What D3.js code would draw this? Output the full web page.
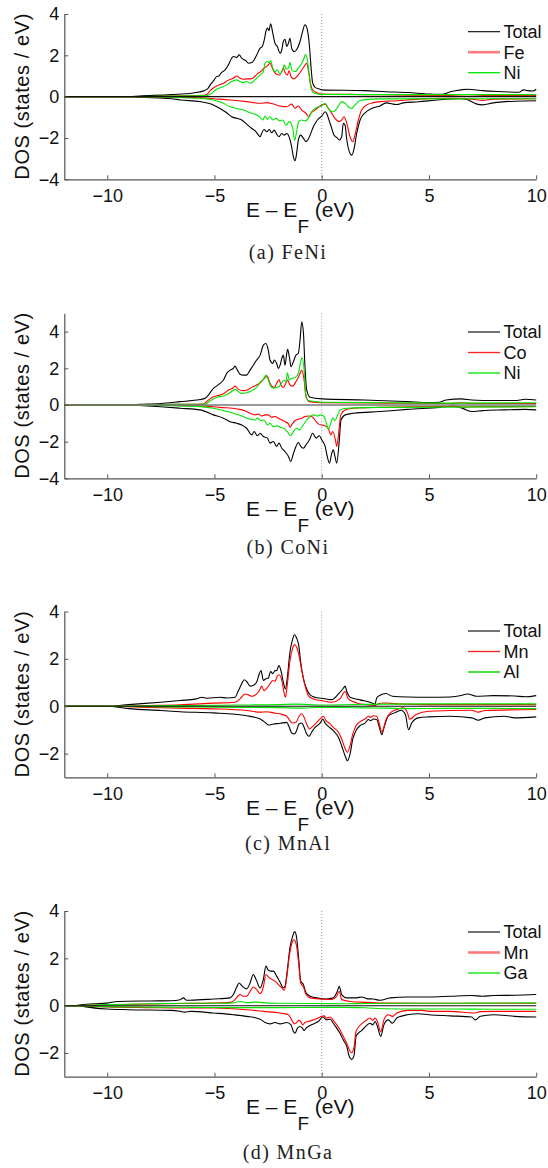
<!DOCTYPE html>
<html><head><meta charset="utf-8">
<script src="https://cdn.jsdelivr.net/npm/d3@7"></script>
<style>body{margin:0;background:#fff}svg{display:block}</style>
</head><body><svg id="c" width="548" height="1168"></svg>
<script>
// ---------- data: [energy (eV), DOS (states/eV)] ----------
const feniTotUp=[[-12,0],[-9,0],[-8.5,0.03],[-7,0.1],[-6,0.18],[-5.5,0.28],[-5.3,0.4],[-5.2,0.57],[-5.02,0.8],[-4.9,0.97],[-4.8,1.0],[-4.66,1.17],[-4.5,1.3],[-4.35,1.54],[-4.2,1.86],[-4.12,1.94],[-3.96,1.9],[-3.84,2.02],[-3.73,1.86],[-3.65,1.8],[-3.54,1.75],[-3.42,1.62],[-3.26,1.65],[-3.15,1.78],[-3.03,2.02],[-2.87,2.35],[-2.77,2.43],[-2.67,2.78],[-2.6,3.16],[-2.52,3.32],[-2.46,3.2],[-2.38,3.53],[-2.28,3.07],[-2.18,2.59],[-2.07,2.43],[-1.94,2.1],[-1.86,2.27],[-1.79,2.67],[-1.71,2.78],[-1.63,2.43],[-1.55,2.59],[-1.48,2.83],[-1.4,2.35],[-1.29,2.18],[-1.17,2.27],[-1.01,2.67],[-0.89,3.16],[-0.78,3.48],[-0.67,3.24],[-0.57,2.43],[-0.5,1.46],[-0.42,0.65],[-0.31,0.45],[-0.08,0.36],[0,0.33],[2,0.29],[3,0.24],[4,0.2],[5,0.13],[5.6,0.11],[6,0.24],[6.5,0.33],[6.8,0.36],[7.5,0.29],[8.5,0.24],[9.2,0.21],[9.4,0.33],[9.6,0.29],[9.85,0.27],[10,0.36]];
const feniFeUp=[[-12,0],[-9,0],[-7,0.03],[-6,0.05],[-5.5,0.06],[-5.36,0.1],[-5.2,0.29],[-5.05,0.42],[-4.82,0.55],[-4.58,0.65],[-4.35,0.8],[-4.12,0.89],[-3.96,1.0],[-3.81,0.89],[-3.65,0.84],[-3.5,0.86],[-3.31,0.86],[-3.15,0.94],[-3.0,1.1],[-2.84,1.21],[-2.69,1.38],[-2.53,1.49],[-2.41,1.62],[-2.33,1.46],[-2.25,1.26],[-2.13,1.1],[-1.97,1.05],[-1.86,1.21],[-1.79,1.38],[-1.71,1.17],[-1.6,1.05],[-1.52,1.26],[-1.43,0.97],[-1.29,0.86],[-1.13,1.0],[-0.98,1.21],[-0.82,1.46],[-0.7,1.62],[-0.61,1.21],[-0.51,0.57],[-0.42,0.32],[-0.23,0.19],[0,0.13],[2,0.1],[4,0.07],[6,0.06],[6.8,0.1],[7.5,0.06],[10,0.06]];
const feniNiUp=[[-12,0],[-9,0],[-7,0.03],[-6,0.04],[-5.36,0.05],[-5.13,0.16],[-4.9,0.36],[-4.66,0.45],[-4.43,0.57],[-4.2,0.73],[-3.96,0.81],[-3.81,0.73],[-3.65,0.68],[-3.5,0.73],[-3.34,0.65],[-3.19,0.73],[-3.03,0.89],[-2.87,1.05],[-2.72,1.21],[-2.64,1.62],[-2.53,1.7],[-2.44,1.65],[-2.38,1.75],[-2.28,1.38],[-2.18,1.21],[-2.07,1.29],[-1.94,1.1],[-1.83,1.29],[-1.74,1.54],[-1.66,1.33],[-1.55,1.38],[-1.48,1.65],[-1.38,1.26],[-1.24,1.21],[-1.09,1.38],[-0.93,1.62],[-0.82,1.86],[-0.76,2.05],[-0.67,1.78],[-0.57,0.97],[-0.5,0.4],[-0.39,0.19],[0,0.11],[2,0.1],[5,0.1],[10,0.1]];
const feniTotDn=[[-12,0],[-9,0],[-8.5,-0.03],[-7,-0.1],[-6.6,-0.16],[-5.67,-0.24],[-5.05,-0.4],[-4.74,-0.57],[-4.43,-0.78],[-4.2,-0.97],[-3.96,-1.05],[-3.73,-1.13],[-3.5,-1.33],[-3.26,-1.54],[-3.06,-1.7],[-2.95,-1.86],[-2.87,-1.94],[-2.8,-1.78],[-2.69,-1.59],[-2.56,-1.7],[-2.44,-1.59],[-2.33,-1.75],[-2.22,-1.62],[-2.1,-1.81],[-1.99,-1.94],[-1.86,-1.78],[-1.76,-1.86],[-1.63,-1.78],[-1.51,-1.97],[-1.4,-2.43],[-1.32,-2.91],[-1.24,-3.1],[-1.17,-2.75],[-1.09,-2.1],[-0.98,-1.86],[-0.85,-2.02],[-0.73,-2.18],[-0.65,-2.1],[-0.54,-1.86],[-0.39,-1.46],[-0.2,-1.13],[0,-0.94],[0.16,-0.73],[0.23,-0.81],[0.34,-1.13],[0.47,-1.54],[0.57,-1.86],[0.7,-1.97],[0.82,-2.1],[0.93,-1.94],[1.01,-1.29],[1.09,-1.38],[1.17,-2.1],[1.29,-2.67],[1.4,-2.83],[1.51,-2.51],[1.63,-1.78],[1.79,-1.13],[2.02,-0.78],[2.33,-0.57],[2.72,-0.45],[3,-0.3],[3.5,-0.38],[3.8,-0.3],[4.5,-0.25],[5.5,-0.15],[6.5,-0.1],[6.8,-0.15],[7.2,-0.35],[7.5,-0.4],[8,-0.3],[9,-0.22],[10,-0.2]];
const feniFeDn=[[-12,0],[-9,0],[-7,-0.03],[-5.67,-0.05],[-5.05,-0.1],[-4.27,-0.16],[-3.5,-0.24],[-2.87,-0.32],[-2.56,-0.29],[-2.25,-0.36],[-1.94,-0.45],[-1.63,-0.49],[-1.4,-0.36],[-1.24,-0.57],[-1.09,-0.45],[-0.93,-0.65],[-0.73,-0.81],[-0.62,-0.97],[-0.51,-0.81],[-0.31,-0.65],[-0.08,-0.45],[0.16,-0.36],[0.31,-0.57],[0.47,-0.81],[0.62,-1.05],[0.82,-1.21],[0.93,-1.13],[1.04,-0.97],[1.17,-1.29],[1.32,-1.94],[1.45,-2.18],[1.55,-1.86],[1.71,-1.13],[1.86,-0.65],[2.1,-0.4],[2.41,-0.29],[2.72,-0.24],[3.5,-0.2],[4.5,-0.12],[6,-0.08],[7,-0.12],[7.5,-0.18],[8,-0.12],[10,-0.1]];
const feniNiDn=[[-12,0],[-9,0],[-7,-0.03],[-5.67,-0.08],[-5.05,-0.16],[-4.58,-0.32],[-4.27,-0.49],[-3.96,-0.57],[-3.65,-0.65],[-3.34,-0.78],[-3.03,-0.89],[-2.87,-1.0],[-2.75,-1.13],[-2.64,-0.94],[-2.53,-1.1],[-2.41,-0.97],[-2.28,-1.13],[-2.13,-1.05],[-1.97,-1.17],[-1.82,-1.13],[-1.66,-1.38],[-1.51,-1.21],[-1.35,-1.54],[-1.26,-2.12],[-1.17,-1.7],[-1.07,-1.21],[-0.93,-1.13],[-0.78,-1.17],[-0.62,-1.05],[-0.47,-0.73],[-0.23,-0.52],[0,-0.45],[0.16,-0.32],[0.31,-0.57],[0.47,-0.73],[0.62,-0.68],[0.78,-0.45],[0.93,-0.24],[1.09,-0.32],[1.24,-0.49],[1.4,-0.57],[1.55,-0.4],[1.79,-0.19],[2.1,-0.13],[2.72,-0.11],[10,-0.1]];

const coniTotUp=[[-12,0],[-9,0],[-8.5,0.03],[-7.5,0.08],[-6.6,0.18],[-5.83,0.27],[-5.44,0.36],[-5.28,0.54],[-5.05,0.91],[-4.9,1.03],[-4.74,1.18],[-4.58,1.36],[-4.43,1.72],[-4.27,1.9],[-4.12,1.99],[-4.04,2.12],[-3.93,1.9],[-3.81,1.68],[-3.65,1.63],[-3.5,1.63],[-3.34,1.9],[-3.19,2.17],[-3.03,2.45],[-2.87,2.72],[-2.72,3.26],[-2.6,3.35],[-2.49,2.99],[-2.41,2.45],[-2.28,2.26],[-2.21,2.45],[-2.1,2.26],[-2.02,1.99],[-1.94,2.17],[-1.86,2.54],[-1.79,2.72],[-1.71,2.17],[-1.63,2.81],[-1.59,3.03],[-1.51,2.63],[-1.43,2.08],[-1.32,2.36],[-1.2,2.72],[-1.09,2.81],[-1.01,3.53],[-0.93,4.53],[-0.85,3.9],[-0.78,2.08],[-0.7,0.82],[-0.54,0.42],[0,0.33],[2,0.27],[4,0.18],[5,0.13],[5.5,0.15],[5.8,0.27],[6.5,0.33],[7,0.27],[8,0.24],[9,0.24],[9.5,0.31],[10,0.27]];
const coniCoUp=[[-12,0],[-9,0],[-7,0.03],[-6,0.04],[-5.52,0.05],[-5.28,0.27],[-5.05,0.45],[-4.74,0.54],[-4.51,0.67],[-4.35,0.82],[-4.15,0.91],[-4.04,1.03],[-3.88,0.85],[-3.65,0.78],[-3.42,0.85],[-3.26,0.96],[-3.03,1.09],[-2.8,1.27],[-2.64,1.5],[-2.53,1.58],[-2.44,1.27],[-2.33,1.03],[-2.21,0.96],[-2.1,1.18],[-1.99,1.39],[-1.9,1.09],[-1.79,0.96],[-1.66,1.21],[-1.59,1.36],[-1.48,1.09],[-1.35,1.03],[-1.2,1.27],[-1.04,1.63],[-0.93,1.9],[-0.82,1.36],[-0.73,0.45],[-0.57,0.18],[0,0.13],[3,0.1],[6,0.08],[6.5,0.12],[7,0.08],[10,0.08]];
const coniNiUp=[[-12,0],[-9,0],[-7,0.03],[-6,0.04],[-5.44,0.05],[-5.2,0.22],[-4.9,0.42],[-4.58,0.49],[-4.27,0.67],[-4.04,0.85],[-3.88,0.72],[-3.73,0.63],[-3.5,0.67],[-3.26,0.78],[-3.03,0.96],[-2.84,1.27],[-2.72,1.39],[-2.6,1.63],[-2.49,1.36],[-2.38,1.03],[-2.25,0.91],[-2.1,0.96],[-1.97,1.03],[-1.86,1.21],[-1.76,1.36],[-1.66,1.27],[-1.6,1.76],[-1.51,1.36],[-1.4,1.45],[-1.24,1.5],[-1.09,1.72],[-0.98,2.36],[-0.92,2.59],[-0.82,1.9],[-0.75,0.63],[-0.62,0.24],[0,0.15],[3,0.12],[6,0.1],[10,0.12]];
const coniTotDn=[[-12,0],[-9,0],[-8.5,-0.03],[-7.5,-0.1],[-6.6,-0.18],[-5.67,-0.27],[-5.05,-0.54],[-4.58,-0.72],[-4.27,-0.91],[-3.96,-1.0],[-3.73,-1.09],[-3.5,-1.27],[-3.26,-1.63],[-3.15,-1.45],[-3.0,-1.68],[-2.87,-1.54],[-2.72,-1.72],[-2.53,-1.81],[-2.41,-2.08],[-2.25,-1.99],[-2.1,-2.26],[-1.99,-2.08],[-1.86,-2.36],[-1.71,-2.54],[-1.55,-2.81],[-1.45,-3.08],[-1.32,-2.66],[-1.2,-2.26],[-1.09,-2.05],[-0.98,-2.26],[-0.85,-2.36],[-0.73,-2.17],[-0.57,-1.9],[-0.42,-1.54],[-0.26,-1.81],[-0.11,-1.68],[0,-1.9],[0.16,-2.26],[0.26,-2.81],[0.36,-3.17],[0.47,-2.63],[0.54,-2.45],[0.62,-2.81],[0.7,-3.17],[0.81,-2.08],[0.9,-0.82],[1.09,-0.54],[1.48,-0.45],[2.72,-0.36],[4,-0.24],[5.5,-0.13],[6.2,-0.06],[6.6,-0.2],[7,-0.36],[7.5,-0.31],[8.5,-0.27],[9.5,-0.24],[10,-0.27]];
const coniCoDn=[[-12,0],[-9,0],[-7,-0.03],[-5.67,-0.05],[-4.74,-0.13],[-3.81,-0.24],[-3.5,-0.36],[-3.26,-0.49],[-3.11,-0.54],[-2.95,-0.49],[-2.8,-0.6],[-2.64,-0.54],[-2.49,-0.54],[-2.33,-0.67],[-2.18,-0.63],[-2.02,-0.72],[-1.86,-0.82],[-1.71,-0.91],[-1.55,-1.03],[-1.48,-1.21],[-1.37,-1.03],[-1.24,-0.85],[-1.09,-0.78],[-0.93,-0.72],[-0.78,-0.63],[-0.62,-0.6],[-0.47,-0.63],[-0.31,-0.82],[-0.16,-1.03],[0,-1.09],[0.16,-1.14],[0.31,-1.27],[0.42,-1.63],[0.51,-1.45],[0.64,-1.9],[0.7,-2.26],[0.79,-1.54],[0.89,-0.54],[1.09,-0.27],[1.48,-0.18],[2.72,-0.13],[6,-0.08],[6.6,-0.12],[7,-0.1],[10,-0.08]];
const coniNiDn=[[-12,0],[-9,0],[-7,-0.04],[-5.67,-0.09],[-5.05,-0.18],[-4.58,-0.31],[-4.12,-0.45],[-3.65,-0.63],[-3.34,-0.78],[-3.11,-0.82],[-3.0,-0.72],[-2.84,-0.85],[-2.69,-0.82],[-2.53,-1.09],[-2.41,-1.0],[-2.25,-1.18],[-2.1,-1.14],[-1.94,-1.21],[-1.79,-1.27],[-1.6,-1.45],[-1.45,-1.68],[-1.32,-1.45],[-1.17,-1.27],[-1.04,-1.36],[-0.89,-1.14],[-0.7,-0.82],[-0.54,-0.63],[-0.39,-0.54],[-0.2,-0.6],[-0.08,-0.54],[0.08,-0.6],[0.2,-0.91],[0.31,-1.32],[0.42,-1.0],[0.51,-0.72],[0.62,-0.85],[0.73,-0.6],[0.85,-0.27],[1.17,-0.18],[2.72,-0.13],[10,-0.1]];

const mnalTotUp=[[-12,0],[-10,0],[-9,0.07],[-7.5,0.17],[-6.6,0.24],[-5.83,0.31],[-5.59,0.38],[-5.36,0.34],[-4.74,0.38],[-4.43,0.35],[-4.04,0.38],[-3.88,0.66],[-3.73,0.95],[-3.61,1.12],[-3.5,1.05],[-3.34,0.85],[-3.19,0.88],[-3.03,1.02],[-2.91,1.37],[-2.83,1.51],[-2.72,1.09],[-2.6,1.16],[-2.49,1.19],[-2.38,1.47],[-2.28,1.37],[-2.18,1.51],[-2.1,1.5],[-2.0,1.72],[-1.9,1.51],[-1.79,1.02],[-1.69,0.73],[-1.6,1.23],[-1.48,2.29],[-1.37,2.78],[-1.27,3.02],[-1.17,2.88],[-1.07,2.57],[-0.98,1.86],[-0.85,1.16],[-0.7,0.73],[-0.54,0.48],[-0.31,0.38],[0,0.34],[0.47,0.28],[0.78,0.52],[1.01,0.76],[1.09,0.85],[1.17,0.62],[1.32,0.38],[1.79,0.27],[2.25,0.17],[2.49,0.1],[2.56,0.34],[2.69,0.45],[3.0,0.54],[3.3,0.42],[4,0.39],[5,0.38],[6,0.39],[6.5,0.45],[6.8,0.52],[7.2,0.42],[8,0.45],[9,0.43],[9.5,0.4],[10,0.45]];
const mnalMnUp=[[-12,0],[-10,0],[-8,0.03],[-6.6,0.06],[-5.05,0.13],[-4.04,0.17],[-3.81,0.31],[-3.57,0.52],[-3.42,0.48],[-3.26,0.42],[-3.03,0.52],[-2.87,0.73],[-2.8,0.85],[-2.69,0.66],[-2.56,0.76],[-2.41,0.95],[-2.28,1.09],[-2.18,1.05],[-2.07,1.27],[-1.99,1.33],[-1.86,1.09],[-1.76,0.59],[-1.69,0.38],[-1.6,0.95],[-1.48,1.93],[-1.35,2.46],[-1.27,2.6],[-1.17,2.5],[-1.06,2.15],[-0.93,1.51],[-0.78,0.88],[-0.62,0.45],[-0.39,0.31],[0,0.24],[0.47,0.17],[0.85,0.31],[1.09,0.62],[1.24,0.31],[1.63,0.14],[2.1,0.06],[2.49,0.03],[2.64,0.1],[2.9,0.14],[3.5,0.1],[5,0.07],[10,0.07]];
const mnalAlUp=[[-12,0],[-10,0],[-8,0.02],[-6,0.03],[-4,0.05],[-2,0.07],[-1.2,0.09],[0,0.05],[1,0.06],[2,0.08],[3,0.09],[5,0.1],[7,0.1],[10,0.1]];
const mnalTotDn=[[-12,0],[-10,0],[-9,-0.1],[-7.5,-0.18],[-6.6,-0.23],[-5.05,-0.28],[-3.5,-0.4],[-2.87,-0.54],[-2.64,-0.68],[-2.49,-0.79],[-2.25,-0.75],[-1.94,-0.72],[-1.63,-0.68],[-1.51,-0.89],[-1.4,-1.13],[-1.27,-1.17],[-1.17,-1.03],[-1.06,-0.75],[-0.93,-0.71],[-0.82,-0.89],[-0.7,-1.17],[-0.59,-1.27],[-0.47,-1.1],[-0.31,-0.89],[-0.16,-0.79],[-0.05,-0.68],[0.05,-0.54],[0.16,-0.71],[0.31,-0.85],[0.54,-1.03],[0.78,-1.31],[0.93,-1.67],[1.09,-2.09],[1.2,-2.3],[1.32,-2.02],[1.45,-1.38],[1.6,-1.03],[1.79,-0.82],[2.02,-0.71],[2.18,-0.56],[2.28,-0.61],[2.41,-0.54],[2.56,-0.56],[2.69,-0.89],[2.8,-1.2],[2.9,-0.92],[3.1,-0.42],[3.4,-0.28],[3.7,-0.17],[3.9,-0.35],[4.05,-0.99],[4.2,-0.7],[4.5,-0.49],[5,-0.45],[6,-0.42],[7,-0.49],[7.3,-0.59],[7.6,-0.49],[8.5,-0.42],[9,-0.49],[10,-0.45]];
const mnalMnDn=[[-12,0],[-10,0],[-8,-0.05],[-6.6,-0.08],[-5.05,-0.11],[-3.5,-0.18],[-2.87,-0.25],[-2.56,-0.23],[-2.25,-0.28],[-1.94,-0.32],[-1.63,-0.42],[-1.48,-0.61],[-1.35,-0.71],[-1.2,-0.68],[-1.04,-0.4],[-0.93,-0.32],[-0.82,-0.47],[-0.7,-0.75],[-0.57,-0.96],[-0.42,-0.85],[-0.23,-0.68],[0,-0.47],[0.08,-0.42],[0.2,-0.61],[0.36,-0.71],[0.54,-0.89],[0.78,-1.1],[0.93,-1.38],[1.09,-1.78],[1.2,-1.95],[1.32,-1.67],[1.45,-1.17],[1.6,-0.82],[1.79,-0.65],[2.02,-0.54],[2.18,-0.42],[2.28,-0.47],[2.41,-0.4],[2.56,-0.42],[2.69,-0.75],[2.8,-1.1],[3.0,-0.56],[3.2,-0.28],[3.5,-0.14],[3.8,-0.07],[4.0,-0.28],[4.1,-0.55],[4.4,-0.35],[5,-0.21],[7,-0.17],[7.3,-0.25],[7.6,-0.18],[10,-0.14]];
const mnalAlDn=[[-12,0],[-10,0],[-8,-0.02],[-6,-0.03],[-4,-0.05],[-2,-0.06],[-1,-0.08],[0,-0.05],[1,-0.05],[2,-0.07],[3,-0.08],[4,-0.1],[6,-0.09],[8,-0.09],[10,-0.1]];

const mngaTotUp=[[-12,0],[-11.5,0],[-11,0.06],[-10,0.11],[-9.5,0.18],[-8,0.2],[-7,0.21],[-6.6,0.25],[-6.45,0.33],[-6.3,0.23],[-6.14,0.23],[-5.05,0.28],[-4.27,0.33],[-4.12,0.47],[-3.96,0.79],[-3.85,0.96],[-3.73,0.85],[-3.5,0.71],[-3.34,0.96],[-3.19,1.32],[-3.06,1.11],[-2.87,0.75],[-2.72,1.11],[-2.6,1.67],[-2.49,1.5],[-2.38,1.46],[-2.25,1.46],[-2.1,1.25],[-1.94,0.99],[-1.79,0.75],[-1.71,0.82],[-1.6,1.53],[-1.48,2.45],[-1.35,2.95],[-1.26,3.13],[-1.17,2.88],[-1.07,1.96],[-0.98,1.04],[-0.85,0.89],[-0.73,0.54],[-0.54,0.4],[-0.23,0.33],[0.23,0.28],[0.54,0.33],[0.73,0.61],[0.82,0.82],[0.93,0.47],[1.17,0.33],[1.63,0.33],[1.86,0.37],[2.1,0.3],[2.41,0.28],[2.72,0.23],[3.2,0.33],[4,0.37],[5,0.37],[6,0.4],[7,0.43],[7.5,0.4],[8,0.43],[9,0.44],[10,0.47]];
const mngaMnUp=[[-12,0],[-11.5,0],[-10,0.04],[-8,0.07],[-6.6,0.09],[-5.05,0.11],[-4.27,0.14],[-4.04,0.26],[-3.88,0.43],[-3.81,0.47],[-3.65,0.4],[-3.5,0.4],[-3.31,0.65],[-3.19,0.79],[-3.03,0.68],[-2.87,0.51],[-2.72,0.79],[-2.6,1.32],[-2.49,1.22],[-2.33,1.11],[-2.18,1.04],[-2.02,0.89],[-1.86,0.75],[-1.74,0.65],[-1.63,1.18],[-1.51,2.1],[-1.38,2.67],[-1.29,2.78],[-1.17,2.52],[-1.07,1.74],[-0.98,0.96],[-0.85,0.79],[-0.73,0.47],[-0.54,0.33],[-0.08,0.28],[0.47,0.26],[0.7,0.4],[0.82,0.61],[0.93,0.26],[1.32,0.18],[2.1,0.14],[2.72,0.11],[5,0.1],[10,0.1]];
const mngaGaUp=[[-12,0],[-11.5,0],[-10,0.05],[-8,0.08],[-6.5,0.1],[-5,0.1],[-4.2,0.11],[-3.8,0.18],[-3.5,0.13],[-3.0,0.15],[-2.5,0.11],[-1.5,0.1],[0,0.09],[1,0.08],[2,0.09],[3,0.1],[5,0.1],[7,0.11],[10,0.12]];
const mngaTotDn=[[-12,0],[-11.3,0],[-11,-0.05],[-10,-0.14],[-9,-0.17],[-7,-0.2],[-6.6,-0.24],[-6.4,-0.27],[-6.1,-0.24],[-5.05,-0.31],[-4.12,-0.38],[-3.5,-0.45],[-2.87,-0.57],[-2.64,-0.71],[-2.41,-0.77],[-2.18,-0.71],[-1.94,-0.77],[-1.63,-0.71],[-1.43,-0.81],[-1.32,-1.09],[-1.24,-1.16],[-1.13,-0.95],[-1.01,-0.88],[-0.9,-0.95],[-0.82,-1.05],[-0.73,-0.95],[-0.57,-0.85],[-0.39,-0.77],[-0.16,-0.67],[0.05,-0.48],[0.23,-0.6],[0.39,-0.57],[0.54,-0.74],[0.7,-0.95],[0.85,-1.16],[1.01,-1.45],[1.17,-1.73],[1.29,-2.16],[1.4,-2.27],[1.51,-2.09],[1.6,-1.3],[1.71,-1.16],[1.86,-1.05],[2.07,-0.85],[2.25,-0.74],[2.38,-0.81],[2.49,-0.67],[2.6,-0.88],[2.75,-1.3],[2.9,-0.81],[3.1,-0.6],[3.3,-0.74],[3.5,-0.52],[4,-0.38],[4.5,-0.34],[5,-0.38],[6,-0.43],[7,-0.48],[7.15,-0.6],[7.4,-0.45],[8,-0.38],[9,-0.45],[10,-0.48]];
const mngaMnDn=[[-12,0],[-11.3,0],[-10,-0.05],[-8,-0.08],[-6.6,-0.1],[-5.05,-0.1],[-3.5,-0.17],[-2.72,-0.24],[-1.94,-0.31],[-1.55,-0.38],[-1.4,-0.6],[-1.27,-0.77],[-1.17,-0.71],[-1.07,-0.62],[-0.98,-0.67],[-0.89,-0.81],[-0.78,-0.71],[-0.62,-0.67],[-0.39,-0.6],[-0.16,-0.52],[0,-0.45],[0.11,-0.43],[0.23,-0.52],[0.39,-0.48],[0.54,-0.62],[0.7,-0.81],[0.85,-1.02],[1.01,-1.3],[1.17,-1.59],[1.29,-1.87],[1.4,-1.99],[1.51,-1.73],[1.6,-1.09],[1.71,-0.91],[1.86,-0.77],[2.07,-0.62],[2.25,-0.52],[2.38,-0.62],[2.49,-0.52],[2.6,-0.67],[2.75,-1.1],[2.9,-0.6],[3.1,-0.38],[3.3,-0.45],[3.5,-0.31],[4,-0.2],[4.7,-0.2],[5,-0.24],[6,-0.24],[7.15,-0.31],[7.4,-0.25],[8,-0.24],[10,-0.24]];
const mngaGaDn=[[-12,0],[-11.5,0],[-10,-0.04],[-8,-0.06],[-6,-0.07],[-4,-0.08],[-2,-0.08],[0,-0.07],[1,-0.07],[2,-0.09],[3,-0.13],[4,-0.14],[6,-0.14],[8,-0.15],[10,-0.15]];

// categories / labels
const X_DOMAIN=[-12,10];
const X_TICKS=[-10,-5,0,5,10];
const CAPTIONS=['(a) FeNi','(b) CoNi','(c) MnAl','(d) MnGa'];
const LEGENDS=[['Total','Fe','Ni'],['Total','Co','Ni'],['Total','Mn','Al'],['Total','Mn','Ga']];
const Y_DOMAINS=[[-4,4],[-4,5],[-3,4],[-3,4]];
const Y_TICKS=[[-4,-2,0,2,4],[-4,-2,0,2,4],[-2,0,2,4],[-2,0,2,4]];
const SERIES=[
  [feniTotUp,feniFeUp,feniNiUp,feniTotDn,feniFeDn,feniNiDn],
  [coniTotUp,coniCoUp,coniNiUp,coniTotDn,coniCoDn,coniNiDn],
  [mnalTotUp,mnalMnUp,mnalAlUp,mnalTotDn,mnalMnDn,mnalAlDn],
  [mngaTotUp,mngaMnUp,mngaGaUp,mngaTotDn,mngaMnDn,mngaGaDn]
];

// ---------- layout / style ----------
const LAYOUT=[
  {top:14,   bottom:179.3, cap:258.5, leg:31.7, zero:'#111', zeroW:1.1, legStyle:[['#000',1.1],['#ff7a7a',2.6],['#00e600',1.3]]},
  {top:313.3,bottom:478.3, cap:553.5, leg:332,  zero:'#777', zeroW:1.6, legStyle:[['#000',1.1],['#ff2020',1.3],['#00e600',1.3]]},
  {top:611.5,bottom:777.3, cap:849.5, leg:631,  zero:'#111', zeroW:1.1, legStyle:[['#000',1.1],['#ff2020',1.3],['#33dd33',1.8]]},
  {top:911,  bottom:1076.7,cap:1158.5,leg:932,  zero:'#111', zeroW:1.1, legStyle:[['#000',1.1],['#ff7a7a',2.6],['#00e600',1.3]]}
];
const COLORS=['#000000','#ff0000','#00e600'];
const SANS='"Liberation Sans", Arial, Helvetica, sans-serif';
const SERIF='"Liberation Serif", "DejaVu Serif", serif';

const svg=d3.select('#c');
const x=d3.scaleLinear().domain(X_DOMAIN).range([64.3,536.2]);
const fmt=d=> d<0 ? '\u2212'+Math.abs(d) : String(d);

SERIES.forEach((series,k)=>{
  const L=LAYOUT[k];
  const y=d3.scaleLinear().domain(Y_DOMAINS[k]).range([L.bottom,L.top]);
  const g=svg.append('g');

  // dotted Fermi-level line
  g.append('line').attr('x1',x(0)).attr('x2',x(0)).attr('y1',L.top).attr('y2',L.bottom)
    .attr('stroke','#9a9a9a').attr('stroke-width',1).attr('stroke-dasharray','1,2');

  const line=d3.line().x(d=>x(d[0])).y(d=>y(d[1])).curve(d3.curveMonotoneX);
  series.forEach((s,i)=>{
    g.append('path').attr('d',line(s)).attr('fill','none')
      .attr('stroke',COLORS[i%3]).attr('stroke-width',1.1).attr('stroke-linejoin','round');
  });

  // zero line
  g.append('line').attr('x1',x(X_DOMAIN[0])).attr('x2',x(X_DOMAIN[1])).attr('y1',y(0)).attr('y2',y(0))
    .attr('stroke',L.zero).attr('stroke-width',L.zeroW);

  // axes
  const xa=g.append('g').attr('transform',`translate(0,${L.bottom})`)
    .call(d3.axisBottom(x).tickValues(X_TICKS).tickSizeInner(-4).tickSizeOuter(0).tickPadding(9.6).tickFormat(fmt));
  const ya=g.append('g').attr('transform',`translate(${x(X_DOMAIN[0])},0)`)
    .call(d3.axisLeft(y).tickValues(Y_TICKS[k]).tickSizeInner(-4).tickSizeOuter(0).tickPadding(5).tickFormat(fmt));
  [xa,ya].forEach(a=>{
    a.attr('font-family',SANS).attr('font-size',18);
    a.select('.domain').attr('stroke','#555').attr('stroke-width',1.2);
    a.selectAll('.tick line').attr('stroke','#555');
    a.selectAll('.tick text').attr('fill','#111');
  });

  // y label
  const cy=(L.top+L.bottom)/2;
  g.append('text').attr('transform',`translate(29,${cy}) rotate(-90)`)
    .attr('text-anchor','middle').attr('font-family',SANS).attr('font-size',20).attr('fill','#111')
    .attr('textLength',166).attr('lengthAdjust','spacing')
    .text('DOS (states / eV)');

  // x label
  const xl=g.append('text').attr('x',(x(X_DOMAIN[0])+x(X_DOMAIN[1]))/2).attr('y',L.bottom+37.4)
    .attr('text-anchor','middle').attr('font-family',SANS).attr('font-size',21).attr('fill','#111');
  xl.append('tspan').text('E \u2013 E');
  xl.append('tspan').attr('dy',16).attr('font-size',19).text('F');
  xl.append('tspan').attr('dy',-16).text(' (eV)');

  // legend
  LEGENDS[k].forEach((name,i)=>{
    const ly=L.leg+i*20.5;
    g.append('line').attr('x1',468).attr('x2',500).attr('y1',ly).attr('y2',ly)
      .attr('stroke',L.legStyle[i][0]).attr('stroke-width',L.legStyle[i][1]);
    g.append('text').attr('x',503.5).attr('y',ly+6.4).attr('font-family',SANS).attr('font-size',18)
      .attr('fill','#111').text(name);
  });

  // caption
  svg.append('text').attr('x',288).attr('y',L.cap).attr('text-anchor','middle')
    .attr('font-family',SERIF).attr('font-size',20).attr('letter-spacing',1.4).attr('fill','#222')
    .text(CAPTIONS[k]);
});
</script>
</body></html>
